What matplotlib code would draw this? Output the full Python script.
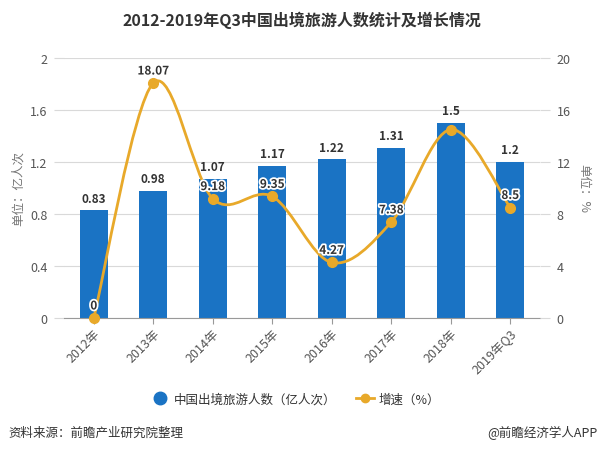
import matplotlib
matplotlib.use('Agg')
import matplotlib.pyplot as plt
import matplotlib.patheffects as pe
from matplotlib.path import Path
from matplotlib.patches import PathPatch
from matplotlib.lines import Line2D
import numpy as np

plt.rcParams['font.family'] = ['Noto Sans CJK SC', 'DejaVu Sans']

# data
years = ['2012年', '2013年', '2014年', '2015年', '2016年', '2017年', '2018年', '2019年Q3']
travelers = [0.83, 0.98, 1.07, 1.17, 1.22, 1.31, 1.5, 1.2]      # 亿人次
growth = [0, 18.07, 9.18, 9.35, 4.27, 7.38, 14.5, 8.5]           # %
growth_labels = ['0', '18.07', '9.18', '9.35', '4.27', '7.38', '', '8.5']

BLUE = '#1a73c4'
ORANGE = '#e8a92a'
GRID = '#d9d9d9'
TXT = '#555555'

fig = plt.figure(figsize=(6.04, 4.52), dpi=100)
ax = fig.add_axes((64/604, 133/452, 476/604, 260/452))
ax2 = ax.twinx()

x = np.arange(len(years))

# bars
ax.bar(x, travelers, width=0.47, color=BLUE, zorder=2)
for xi, v in zip(x, travelers):
    ax.annotate(f'{v:g}', (xi, v), xytext=(0, 4), textcoords='offset points',
                ha='center', va='bottom', fontsize=8.5, fontweight='bold', color='#333333')

ax.set_xlim(-0.5, len(years) - 0.5)
ax.set_ylim(0, 2)
ax.set_yticks([0, 0.4, 0.8, 1.2, 1.6, 2])
ax.set_yticklabels(['0', '0.4', '0.8', '1.2', '1.6', '2'])
ax.grid(axis='y', color=GRID, lw=0.8, zorder=0)
ax.set_axisbelow(True)
ax.tick_params(axis='y', length=7, color=GRID, labelsize=9, labelcolor=TXT, pad=5)
ax.tick_params(axis='x', length=4, color='#999999', labelsize=9, labelcolor=TXT, pad=2)
ax.set_xticks(x)
ax.set_xticklabels(years, rotation=45, ha='right', rotation_mode='anchor')
for s in ['left', 'right', 'top']:
    ax.spines[s].set_visible(False)
ax.spines['bottom'].set_color('#999999')
ax.set_ylabel('单位：亿人次', fontsize=9, color='#777777', labelpad=4)

# growth line, smoothed with Catmull-Rom bezier segments
ax2.set_ylim(0, 20)
ax2.set_yticks([0, 4, 8, 12, 16, 20])
ax2.tick_params(axis='y', length=7, color=GRID, labelsize=9, labelcolor=TXT, pad=5)
for s in ['left', 'right', 'top', 'bottom']:
    ax2.spines[s].set_visible(False)
ax2.set_ylabel('单位：%', fontsize=9, color='#777777', rotation=270, labelpad=14)

pts = np.column_stack([x, growth]).astype(float)
k = 1 / 6
verts = [tuple(pts[0])]
codes = [Path.MOVETO]
for i in range(len(pts) - 1):
    p0 = pts[max(i - 1, 0)]
    p1 = pts[i]
    p2 = pts[i + 1]
    p3 = pts[min(i + 2, len(pts) - 1)]
    c1 = p1 + (p2 - p0) * k
    c2 = p2 - (p3 - p1) * k
    verts += [tuple(c1), tuple(c2), tuple(p2)]
    codes += [Path.CURVE4] * 3
ax2.add_patch(PathPatch(Path(verts, codes), fill=False, ec=ORANGE, lw=2, zorder=3,
                        clip_on=False))
ax2.plot(x, growth, ls='none', marker='o', ms=7, color=ORANGE, zorder=4, clip_on=False)
for xi, v, lab in zip(x, growth, growth_labels):
    if lab:
        ax2.annotate(lab, (xi, v), xytext=(0, 4), textcoords='offset points',
                     ha='center', va='bottom', fontsize=8.5, fontweight='bold',
                     color='#333333', zorder=5,
                     path_effects=[pe.withStroke(linewidth=2.5, foreground='white')])

# title
fig.text(0.5, 1 - 20/452, '2012-2019年Q3中国出境旅游人数统计及增长情况',
         ha='center', va='center', fontsize=11.5, fontweight='bold', color='#333333')

# legend
handles = [
    Line2D([], [], ls='none', marker='o', ms=9, color=BLUE),
    Line2D([], [], color=ORANGE, lw=2, marker='o', ms=6),
]
fig.legend(handles, ['中国出境旅游人数（亿人次）', '增速（%）'], loc='center',
           bbox_to_anchor=(0.49, 1 - 400/452), ncol=2, frameon=False, fontsize=9,
           handlelength=1.4, columnspacing=1.6, handletextpad=0.4,
           labelcolor='#333333')

# footer
fig.text(8/604, 1 - 433/452, '资料来源：前瞻产业研究院整理', ha='left', va='center',
         fontsize=9, color='#333333')
fig.text(598/604, 1 - 433/452, '@前瞻经济学人APP', ha='right', va='center',
         fontsize=9, color='#333333')

fig.savefig('out.png', dpi=100)
